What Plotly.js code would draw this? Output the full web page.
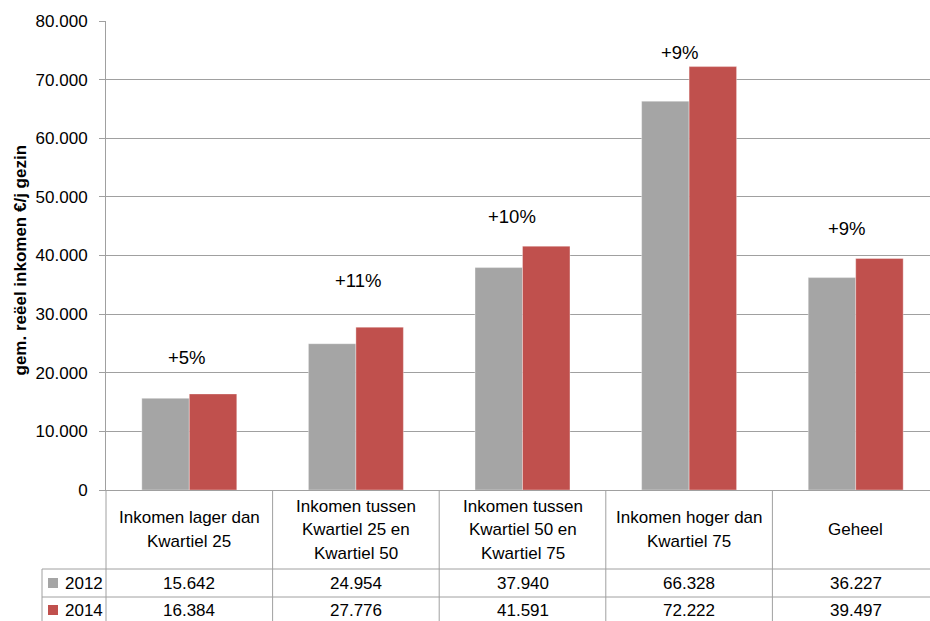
<!DOCTYPE html>
<html><head><meta charset="utf-8">
<script src="https://cdn.plot.ly/plotly-3.0.1.min.js"></script>
<style>html,body{margin:0;padding:0;overflow:hidden;background:#fff}#chart{width:940px;height:621px}</style>
</head><body><div id="chart"></div>
<script>
// ---- data ----
const categories = ["Inkomen lager dan<br>Kwartiel 25", "Inkomen tussen<br>Kwartiel 25 en<br>Kwartiel 50", "Inkomen tussen<br>Kwartiel 50 en<br>Kwartiel 75", "Inkomen hoger dan<br>Kwartiel 75", "Geheel"];
const seriesNames = ["2012", "2014"];
const values2012 = [15642, 24954, 37940, 66328, 36227];
const values2014 = [16384, 27776, 41591, 72222, 39497];
const changeLabels = ["+5%", "+11%", "+10%", "+9%", "+9%"];
const yTitle = "gem. reëel inkomen €/j gezin";

// ---- styling / geometry ----
const colors = ["#a5a5a5", "#c0504d"];
const FONT = "Liberation Sans, Arial, sans-serif";
const W = 940, H = 621, M = {l: 106, r: 1, t: 21, b: 131};
const plotW = W - M.l - M.r, plotH = H - M.t - M.b;
const pxX = p => (p - M.l) / plotW;          // page x pixel -> paper
const pxY = p => (H - M.b - p) / plotH;      // page y pixel -> paper
const lineCol = "#a0a0a0";
const labelShift = [36, 47, 30, 14, 30];
const labelXShift = [-2, 2, -11, -9, -9];

const fmt = v => String(v).replace(/\B(?=(\d{3})+(?!\d))/g, ".");

const traces = [values2012, values2014].map((vals, i) => ({
  type: "bar", name: seriesNames[i], x: categories, y: vals,
  marker: {color: colors[i], line: {color: "rgba(255,255,255,0.35)", width: 1}},
  hoverinfo: "none"
}));

const shapes = [];
const annotations = [];
const line = (x0, y0, x1, y1) => shapes.push({type: "line", xref: "paper", yref: "paper",
  x0: pxX(x0), y0: pxY(y0), x1: pxX(x1), y1: pxY(y1), line: {color: lineCol, width: 1}});

// table grid
const tableBottom = 630, headerBottom = 569, rowMid = 597;
line(42, headerBottom, W, headerBottom);
line(42, rowMid, W, rowMid);
line(42, headerBottom, 42, tableBottom);
for (let k = 0; k <= categories.length; k++) {
  const xp = k / categories.length;
  shapes.push({type: "line", xref: "paper", yref: "paper", x0: xp, x1: xp,
    y0: 0, y1: pxY(tableBottom), line: {color: lineCol, width: 1}});
}

// header texts and values
const rowsY = [583, 610];
categories.forEach((c, i) => {
  const lines = c.split("<br>");
  const lh = 23.5, top = 529.5 - (lines.length - 1) * lh / 2;
  lines.forEach((t, j) => {
    annotations.push({xref: "x", yref: "paper", x: c, y: pxY(top + j * lh), text: t,
      showarrow: false, xanchor: "center", yanchor: "middle",
      font: {family: FONT, size: 17, color: "#000"}});
  });
  [values2012, values2014].forEach((vals, s) => {
    annotations.push({xref: "x", yref: "paper", x: c, y: pxY(rowsY[s]), text: fmt(vals[i]),
      showarrow: false, xanchor: "center", yanchor: "middle",
      font: {family: FONT, size: 17, color: "#000"}});
  });
  // change labels
  annotations.push({xref: "x", yref: "y", x: c, y: Math.max(values2012[i], values2014[i]),
    text: changeLabels[i], showarrow: false, xanchor: "center", yanchor: "middle",
    yshift: labelShift[i], xshift: labelXShift[i],
    font: {family: FONT, size: 18.5, color: "#000"}});
});

// legend keys inside table
seriesNames.forEach((n, s) => {
  shapes.push({type: "rect", xref: "paper", yref: "paper",
    x0: pxX(48), x1: pxX(58), y0: pxY(rowsY[s] - 5), y1: pxY(rowsY[s] + 5),
    fillcolor: colors[s], line: {width: 0}});
  annotations.push({xref: "paper", yref: "paper", x: pxX(63), y: pxY(rowsY[s]), text: n,
    showarrow: false, xanchor: "left", yanchor: "middle",
    font: {family: FONT, size: 17, color: "#000"}});
});

// y title
annotations.push({xref: "paper", yref: "paper", x: pxX(19.5), y: pxY(260), text: "<b>" + yTitle + "</b>",
  textangle: -90, showarrow: false, xanchor: "center", yanchor: "middle",
  font: {family: FONT, size: 17, color: "#000"}});

const layout = {
  width: W, height: H, margin: M,
  paper_bgcolor: "#fff", plot_bgcolor: "#fff",
  separators: ",.",
  showlegend: false,
  barmode: "group", bargap: 0.43, bargroupgap: 0,
  font: {family: FONT, size: 17, color: "#000"},
  xaxis: {type: "category", showticklabels: false, showline: true, linecolor: lineCol,
    linewidth: 1, ticks: "", showgrid: false, zeroline: false, range: [-0.5, categories.length - 0.5]},
  yaxis: {range: [0, 80000], tickvals: [0, 10000, 20000, 30000, 40000, 50000, 60000, 70000, 80000],
    tickformat: ",d", showline: true, linecolor: lineCol, linewidth: 1,
    ticks: "outside", ticklen: 6, tickcolor: lineCol, showgrid: true, gridcolor: lineCol, gridwidth: 1,
    zeroline: false, ticklabelstandoff: 8, tickfont: {family: FONT, size: 17, color: "#000"}},
  shapes: shapes, annotations: annotations
};

Plotly.newPlot("chart", traces, layout, {staticPlot: true, displayModeBar: false});
</script></body></html>
